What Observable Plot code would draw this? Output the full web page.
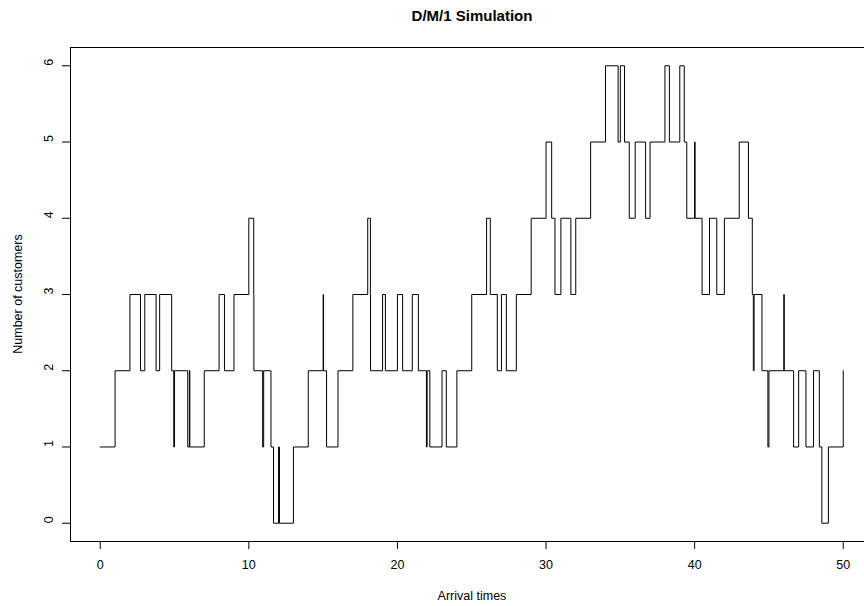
<!DOCTYPE html>
<html>
<head>
<meta charset="utf-8">
<script src="https://cdn.jsdelivr.net/npm/d3@7"></script>
<script src="https://cdn.jsdelivr.net/npm/@observablehq/plot@0.6"></script>
<style>
  body { margin: 0; background: #fff; font-family: "Liberation Sans", Arial, Helvetica, sans-serif; color: #000; }
  #wrap { position: relative; width: 864px; height: 606px; overflow: hidden; }
  #title { position: absolute; top: 7px; left: 0; width: 944px; text-align: center; font-weight: bold; font-size: 15px; }
  #xlab { position: absolute; top: 589px; left: 0; width: 944px; text-align: center; font-size: 12.5px; }
  #ylab { position: absolute; top: 287px; left: -132px; width: 300px; height: 14px; line-height: 14px; text-align: center; font-size: 12.5px; transform: rotate(-90deg); }
  #chart { position: absolute; left: 0; top: 0; }
</style>
</head>
<body>
<div id="wrap">
  <div id="chart"></div>
  <div id="title">D/M/1 Simulation</div>
  <div id="xlab">Arrival times</div>
  <div id="ylab">Number of customers</div>
</div>
<script>
// Event times (arrivals at integers, departures in between) and queue size after each event
const times = [
  0, 1, 2, 2.71, 3, 3.76, 4, 4.81, 4.95, 5, 5.89, 6, 6.03, 7, 8, 8.36, 9, 10, 10.33, 10.34,
  10.93, 11, 11.49, 11.66, 12, 12.06, 13, 14, 15, 15.03, 15.23, 16, 17, 18, 18.18, 18.19, 19, 19.19,
  20, 20.35, 21, 21.41, 21.95, 22, 22.18, 23, 23.29, 24, 25, 26, 26.25, 26.72, 27, 27.33, 28, 29,
  30, 30.38, 30.6, 31, 31.67, 32, 33, 34, 34.85, 35, 35.28, 35.6, 36, 36.7, 37, 38, 38.3, 39,
  39.3, 39.47, 40, 40.03, 40.5, 41, 41.49, 42, 43, 43.62, 43.88, 43.95, 44, 44.53, 44.93, 45,
  46, 46.03, 46.66, 47, 47.49, 48, 48.39, 48.56, 49, 50
];
const customers = [
  1, 2, 3, 2, 3, 2, 3, 2, 1, 2, 1, 2, 1, 2, 3, 2, 3, 4, 3, 2,
  1, 2, 1, 0, 1, 0, 1, 2, 3, 2, 1, 2, 3, 4, 3, 2, 3, 2,
  3, 2, 3, 2, 1, 2, 1, 2, 1, 2, 3, 4, 3, 2, 3, 2, 3, 4,
  5, 4, 3, 4, 3, 4, 5, 6, 5, 6, 5, 4, 5, 4, 5, 6, 5, 6,
  5, 4, 5, 4, 3, 4, 3, 4, 5, 4, 3, 2, 3, 2, 1, 2,
  3, 2, 1, 2, 1, 2, 1, 0, 1, 2
];
const xTicks = [0, 10, 20, 30, 40, 50];
const yTicks = [0, 1, 2, 3, 4, 5, 6];

const data = times.map((t, i) => ({t, n: customers[i]}));

const xDomain = [-2, 51.43];
const yDomain = [-0.24, 6.24];

const chart = Plot.plot({
  width: 864,
  height: 606,
  marginLeft: 70,
  marginRight: 0,
  marginTop: 47,
  marginBottom: 65,
  style: { fontFamily: "Liberation Sans, Arial, sans-serif", fontSize: "12.5px", color: "#000", background: "#fff" },
  x: { domain: xDomain, ticks: xTicks, tickSize: 8, tickPadding: 11, label: null, tickFormat: d => String(d) },
  y: { domain: yDomain, ticks: yTicks, tickSize: 8, tickFormat: () => "", label: null },
  marks: [
    Plot.ruleY([yDomain[0], yDomain[1]], { stroke: "#000", strokeWidth: 1 }),
    Plot.ruleX([xDomain[0]], { stroke: "#000", strokeWidth: 1 }),
    Plot.text(yTicks, { frameAnchor: "left", y: d => d, text: d => String(d), rotate: -90, dx: -22, fontSize: 12.5, fill: "#000" }),
    Plot.line(data, { x: "t", y: "n", curve: "step-after", stroke: "#000", strokeWidth: 1 })
  ]
});
document.getElementById("chart").appendChild(chart);
</script>
</body>
</html>
